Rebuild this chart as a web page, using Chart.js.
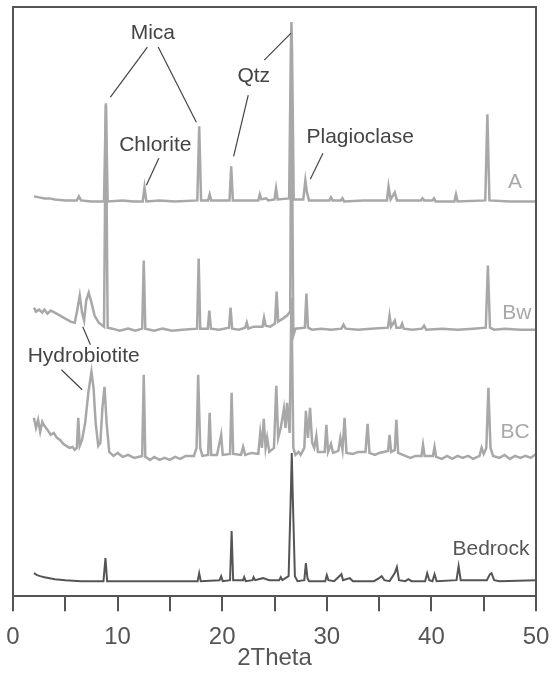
<!DOCTYPE html>
<html>
<head>
<meta charset="utf-8">
<script src="https://cdn.jsdelivr.net/npm/chart.js@4.4.1/dist/chart.umd.min.js"></script>
<style>
  html, body { margin: 0; padding: 0; background: #fff; }
  #wrap { width: 553px; height: 678px; }
</style>
</head>
<body>
<div id="wrap"><canvas id="xrd"></canvas></div>
<script>
// 2theta / intensity pairs (traces stacked, arbitrary units)
const traceA = [
  [2.0, 401], [2.5, 400], [3.0, 399], [3.5, 399], [4.0, 398], [5.0, 397], [6.1, 397], [6.3, 401], [6.5, 397],
  [7.5, 396], [8.7, 396], [8.88, 494], [9.05, 396], [10.5, 397], [11.5, 396], [12.4, 396], [12.57, 410], [12.75, 396],
  [14.0, 397], [15.5, 396], [17.62, 397], [17.8, 471], [17.98, 397], [18.65, 397], [18.8, 403], [18.95, 397],
  [20.7, 397], [20.86, 431], [21.02, 397], [22.5, 397], [23.45, 397], [23.6, 403], [23.75, 398], [24.2, 399],
  [24.4, 397], [25.0, 398], [25.15, 409], [25.3, 398], [26.4, 399], [26.56, 545], [26.62, 575], [26.68, 545],
  [26.84, 398], [27.75, 398], [27.95, 417], [28.1, 405], [28.3, 397], [30.25, 397], [30.4, 400], [30.55, 397],
  [31.35, 397], [31.5, 399], [31.65, 396], [33.5, 397], [35.75, 397], [35.9, 411], [36.1, 398], [36.5, 405],
  [36.7, 397], [39.0, 397], [39.15, 399], [39.3, 397], [40.1, 397], [40.25, 399], [40.4, 396], [42.2, 396],
  [42.35, 403], [42.5, 396], [45.15, 397], [45.35, 483], [45.55, 397], [47.5, 396], [50.0, 396]
];
const traceBw = [
  [2.0, 290], [2.2, 286], [2.5, 288], [2.8, 285], [3.0, 288], [3.3, 284], [3.6, 287], [4.0, 285], [4.5, 282],
  [5.0, 279], [5.5, 276], [5.9, 275], [6.1, 285], [6.38, 302], [6.6, 285], [6.8, 277], [7.0, 297], [7.24, 305],
  [7.5, 295], [7.8, 282], [8.2, 275], [8.7, 271], [8.88, 492], [9.05, 270], [9.5, 269], [10.2, 267], [11.0, 269],
  [11.7, 267], [12.35, 269], [12.5, 337], [12.65, 269], [13.5, 267], [14.3, 269], [15.2, 267], [16.2, 268],
  [17.6, 269], [17.75, 339], [17.9, 269], [18.62, 269], [18.77, 287], [18.92, 269], [19.7, 268], [20.65, 270],
  [20.8, 290], [20.95, 269], [21.6, 268], [22.2, 270], [22.35, 275], [22.5, 269], [23.0, 271], [23.85, 271],
  [24.0, 280], [24.15, 272], [24.6, 271], [25.05, 274], [25.2, 306], [25.35, 276], [25.8, 279], [26.2, 282],
  [26.5, 286], [26.62, 537], [26.8, 262], [27.0, 269], [27.9, 270], [28.05, 304], [28.2, 270], [28.6, 268],
  [29.5, 269], [30.4, 268], [31.4, 269], [31.6, 273], [31.8, 269], [33.0, 268], [34.2, 269], [35.85, 270],
  [36.0, 282], [36.15, 271], [36.5, 277], [36.65, 270], [37.05, 270], [37.2, 274], [37.35, 269], [38.2, 268],
  [39.1, 269], [39.3, 272], [39.5, 268], [41.0, 269], [42.5, 268], [44.0, 269], [45.2, 270], [45.4, 332],
  [45.6, 270], [46.0, 268], [47.0, 269], [48.5, 268], [50.0, 268]
];
const traceBC = [
  [2.0, 180], [2.2, 170], [2.4, 178], [2.6, 166], [2.8, 176], [3.0, 172], [3.3, 168], [3.6, 163], [3.9, 165],
  [4.2, 160], [4.5, 158], [4.8, 154], [5.1, 152], [5.4, 150], [5.7, 151], [5.9, 148], [6.1, 150], [6.24, 180],
  [6.38, 152], [6.6, 158], [6.9, 175], [7.2, 205], [7.5, 226], [7.7, 210], [7.9, 175], [8.15, 152], [8.35, 155],
  [8.55, 190], [8.75, 211], [8.95, 175], [9.2, 146], [9.6, 142], [10.0, 145], [10.5, 141], [11.0, 143],
  [11.6, 140], [12.35, 142], [12.5, 223], [12.65, 141], [13.1, 138], [13.5, 141], [14.0, 138], [14.5, 140],
  [15.0, 138], [15.5, 141], [16.0, 139], [16.5, 142], [17.3, 142], [17.55, 150], [17.7, 223], [17.9, 150],
  [18.1, 142], [18.65, 143], [18.8, 185], [18.95, 143], [19.5, 143], [19.9, 163], [20.05, 143], [20.75, 144],
  [20.9, 205], [21.05, 144], [21.8, 143], [22.0, 151], [22.2, 143], [22.8, 145], [23.45, 144], [23.64, 165],
  [23.8, 150], [23.97, 179], [24.15, 150], [24.3, 160], [24.5, 146], [24.95, 150], [25.17, 212], [25.35, 160],
  [25.6, 170], [25.9, 189], [26.05, 170], [26.2, 195], [26.45, 165], [26.62, 300], [26.8, 150], [27.0, 143],
  [27.3, 146], [27.5, 143], [27.85, 150], [28.0, 187], [28.2, 160], [28.4, 190], [28.6, 155], [28.8, 150],
  [29.0, 162], [29.15, 146], [29.8, 146], [29.96, 173], [30.12, 146], [30.4, 154], [30.6, 145], [31.1, 147],
  [31.3, 160], [31.5, 148], [31.7, 180], [31.88, 145], [32.5, 144], [33.0, 146], [33.7, 146], [33.9, 174],
  [34.08, 145], [34.6, 143], [35.0, 145], [35.85, 147], [36.0, 163], [36.15, 146], [36.5, 148], [36.65, 178],
  [36.82, 145], [37.5, 142], [38.0, 140], [38.5, 142], [39.05, 142], [39.2, 153], [39.35, 142], [40.15, 142],
  [40.3, 151], [40.45, 141], [41.0, 139], [41.5, 142], [42.0, 139], [42.5, 142], [43.0, 140], [43.5, 142],
  [44.0, 139], [44.6, 142], [44.8, 150], [45.0, 144], [45.25, 150], [45.45, 210], [45.65, 150], [45.9, 142],
  [46.5, 140], [47.0, 143], [47.5, 139], [48.0, 142], [48.5, 140], [49.0, 142], [49.5, 140], [50.0, 144]
];
const traceBedrock = [
  [2.0, 25], [2.3, 23], [2.6, 22], [3.0, 21], [3.5, 20], [4.0, 19], [5.0, 18], [6.5, 17], [8.65, 17], [8.84, 40],
  [9.0, 17], [12.0, 17], [15.0, 17], [17.65, 17], [17.8, 25], [17.95, 17], [19.75, 18], [19.9, 22], [20.05, 17],
  [20.75, 18], [20.9, 67], [21.05, 18], [22.0, 18], [22.1, 21], [22.25, 17], [22.9, 18], [23.0, 21], [23.15, 18],
  [23.9, 20], [24.5, 18], [25.45, 18], [25.6, 21], [25.75, 18], [26.35, 22], [26.55, 100], [26.65, 145], [26.75, 100],
  [26.95, 22], [27.2, 17], [27.85, 18], [28.0, 35], [28.15, 20], [28.3, 17], [29.85, 17], [30.0, 23], [30.15, 18],
  [30.7, 17], [31.4, 24], [31.55, 18], [32.2, 20], [32.5, 17], [34.5, 17], [35.0, 20], [35.25, 22], [35.5, 18],
  [36.0, 17], [36.5, 25], [36.7, 31], [36.9, 18], [37.5, 17], [37.8, 19], [38.1, 17], [39.4, 17], [39.6, 25],
  [39.8, 18], [40.1, 17], [40.3, 24], [40.5, 17], [42.4, 18], [42.6, 32], [42.8, 18], [45.3, 18], [45.6, 24],
  [45.75, 25], [46.0, 18], [46.5, 17], [50.0, 18]
];

const sampleNames = ['A', 'Bw', 'BC', 'Bedrock'];
const xTicks = [0, 5, 10, 15, 20, 25, 30, 35, 40, 45, 50];
const xTitle = '2Theta';

// phase labels: [text, 2theta, y] and leader lines [x1, y1, x2, y2] in data units
const phaseLabels = [
  ['Mica', 13.37, 564], ['Chlorite', 13.61, 452], ['Qtz', 23.02, 521],
  ['Plagioclase', 33.19, 460], ['Hydrobiotite', 6.76, 242]
];
const leaders = [
  [12.85, 550, 9.31, 500], [13.88, 550, 17.53, 475], [22.49, 502, 21.09, 441],
  [24.02, 537, 26.58, 564], [13.94, 439, 12.75, 412], [29.63, 444, 28.42, 418],
  [6.67, 271, 7.40, 253], [4.63, 228, 6.61, 208]
];
const sampleLabelPos = [[48.0, 415], [48.16, 284], [48.0, 166], [45.7, 49]];

const light = '#a8a8a8';
const dark = '#555555';
const font = '"Liberation Sans", Arial, sans-serif';
const toXY = pts => pts.map(p => ({ x: p[0], y: p[1] }));

const annotate = {
  id: 'annotate',
  afterDraw(chart) {
    const { ctx, chartArea: a, scales: { x, y } } = chart;
    ctx.save();
    // frame (left, top, right)
    ctx.strokeStyle = dark;
    ctx.lineWidth = 2;
    ctx.beginPath();
    ctx.moveTo(a.left, a.bottom);
    ctx.lineTo(a.left, a.top);
    ctx.lineTo(a.right, a.top);
    ctx.lineTo(a.right, a.bottom);
    ctx.stroke();

    ctx.lineWidth = 1.2;
    ctx.strokeStyle = '#444';
    leaders.forEach(l => {
      ctx.beginPath();
      ctx.moveTo(x.getPixelForValue(l[0]), y.getPixelForValue(l[1]));
      ctx.lineTo(x.getPixelForValue(l[2]), y.getPixelForValue(l[3]));
      ctx.stroke();
    });

    ctx.font = '21px ' + font;
    ctx.textAlign = 'center';
    ctx.textBaseline = 'middle';
    ctx.fillStyle = '#444';
    phaseLabels.forEach(p => {
      ctx.fillText(p[0], x.getPixelForValue(p[1]), y.getPixelForValue(p[2]));
    });

    sampleNames.forEach((n, i) => {
      ctx.fillStyle = i === 3 ? dark : light;
      ctx.fillText(n, x.getPixelForValue(sampleLabelPos[i][0]), y.getPixelForValue(sampleLabelPos[i][1]));
    });

    // axis title
    ctx.font = '24px ' + font;
    ctx.fillStyle = dark;
    ctx.fillText(xTitle, (a.left + a.right) / 2, a.bottom + 62);
    ctx.restore();
  }
};

new Chart(document.getElementById('xrd'), {
  type: 'line',
  data: {
    datasets: [
      { label: sampleNames[0], data: toXY(traceA), borderColor: light, borderWidth: 2.5 },
      { label: sampleNames[1], data: toXY(traceBw), borderColor: light, borderWidth: 2.5 },
      { label: sampleNames[2], data: toXY(traceBC), borderColor: light, borderWidth: 2.5 },
      { label: sampleNames[3], data: toXY(traceBedrock), borderColor: dark, borderWidth: 2 }
    ]
  },
  options: {
    responsive: true,
    maintainAspectRatio: false,
    animation: false,
    elements: { point: { radius: 0 }, line: { tension: 0 } },
    layout: { padding: { left: 13, right: 17, top: 7, bottom: 14 } },
    plugins: { legend: { display: false }, tooltip: { enabled: false } },
    scales: {
      x: {
        type: 'linear',
        min: 0,
        max: 50,
        afterBuildTicks: s => { s.ticks = xTicks.map(v => ({ value: v })); },
        afterFit: s => { s.paddingLeft = 0; s.paddingRight = 0; },
        ticks: {
          autoSkip: false,
          maxRotation: 0,
          padding: 12,
          color: dark,
          font: { family: font, size: 24 },
          callback: v => (v % 10 === 0 ? v : '')
        },
        grid: { drawOnChartArea: false, drawTicks: true, tickLength: 15, color: dark, lineWidth: 2 },
        border: { color: dark, width: 2 }
      },
      y: { display: false, min: 2, max: 590 }
    }
  },
  plugins: [annotate]
});
</script>
</body>
</html>
